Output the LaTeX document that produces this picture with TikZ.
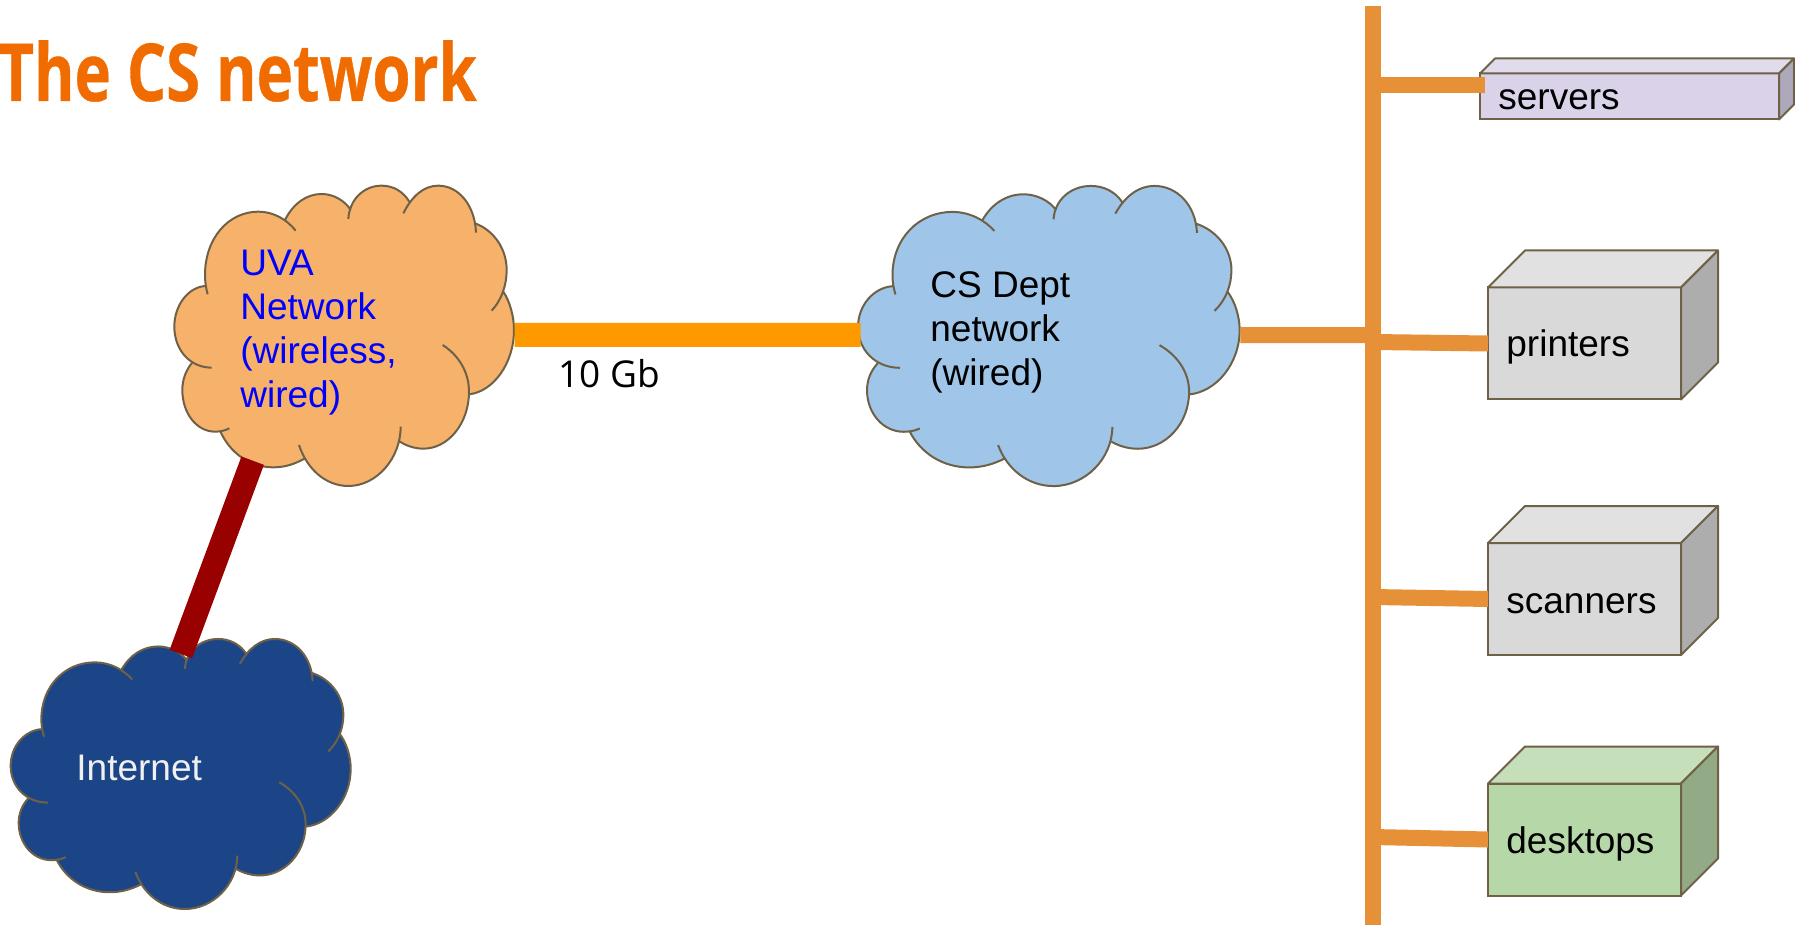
\documentclass[tikz,border=0pt]{standalone}
\usepackage{fontspec}
\setmainfont{Liberation Sans}
\newfontfamily\titlefont[FakeStretch=0.77, BoldFeatures={FakeBold=0.5}]{Open Sans}
\newfontfamily\linkfont{Open Sans}

\definecolor{edgeline}{HTML}{6E6148}
\definecolor{titleorange}{HTML}{F16C00}
\definecolor{barorange}{HTML}{E69138}
\definecolor{linkorange}{HTML}{FF9900}
\definecolor{linkred}{HTML}{990000}
\definecolor{uvafill}{HTML}{F6B26B}
\definecolor{csfill}{HTML}{9FC5E8}
\definecolor{netfill}{HTML}{1C4587}

\newcommand{\lobes}{
  (165,378) -- (405,180) -- (602,150) -- (778,125) -- (975,190) -- (1060,395) -- (957,703) -- (750,845) -- (465,895) -- (210,812) -- (125,610) -- cycle
}
\newcommand{\lobelines}{
  (173,403) .. controls (168,385) and (165,365) .. (165,345) .. controls (165,235) and (235,155) .. (325,155) .. controls (370,155) and (410,178) .. (437,212)
  (405,180) .. controls (430,130) and (470,102) .. (515,102) .. controls (550,102) and (585,122) .. (602,150)
  (595,177) .. controls (598,120) and (640,77) .. (695,77) .. controls (730,77) and (760,95) .. (778,125)
  (760,160) .. controls (785,110) and (820,77) .. (865,77) .. controls (925,77) and (975,135) .. (978,218)
  (975,190) .. controls (1030,210) and (1070,265) .. (1070,330) .. controls (1070,375) and (1055,420) .. (1025,452)
  (1060,395) .. controls (1080,425) and (1092,470) .. (1092,510) .. controls (1092,610) and (1030,695) .. (957,703)
  (878,555) .. controls (925,585) and (957,635) .. (957,695) .. controls (957,790) and (895,866) .. (820,866) .. controls (795,866) and (770,858) .. (750,845)
  (752,800) .. controls (752,895) and (680,978) .. (595,978) .. controls (525,978) and (470,925) .. (447,855)
  (465,895) .. controls (435,912) and (405,922) .. (370,922) .. controls (300,922) and (240,880) .. (210,812)
  (238,805) .. controls (225,812) and (210,815) .. (195,815) .. controls (140,815) and (97,760) .. (97,690) .. controls (97,660) and (107,632) .. (125,610)
  (185,623) .. controls (120,623) and (73,570) .. (73,500) .. controls (73,435) and (115,382) .. (165,378)
}

\tikzset{
  netcloud/.pic={
    \fill[pic actions] \lobes \lobelines;
    \draw[edgeline, line width=1pt] \lobelines;
    \coordinate (-east) at (1094,525);
    \coordinate (-west) at (80,524);
    \coordinate (-south) at (308,902);
    \coordinate (-north) at (583,127);
  },
  cubefront/.style={draw=edgeline, line width=1pt, inner sep=0pt, outer sep=0pt},
  cubeface/.style={draw=edgeline, line width=1pt, line join=round},
  boxlabel/.style={anchor=base west, inner sep=0pt, font=\fontsize{18.5}{22}\selectfont},
  cloudlabel/.style={anchor=west, inner sep=0pt, align=left, font=\fontsize{18.5}{22}\selectfont},
  barline/.style={barorange, line width=8pt}
}

\begin{document}
\begin{tikzpicture}[x=0.5pt, y=-0.5pt]

  \useasboundingbox (0,0) rectangle (1795,925);

  \coordinate (barTop) at (1373,6);
  \coordinate (barBottom) at (1373,925);
  \coordinate (barCs) at (1373,335);
  \coordinate (barServers) at (1373,85);
  \coordinate (barPrinters) at (1373,342);
  \coordinate (barScanners) at (1373,597);
  \coordinate (barDesktops) at (1373,837);
  \coordinate (serversPort) at (1485,85);

  % Title
  \node[anchor=base west, inner sep=0pt, text=titleorange, font=\titlefont\bfseries\fontsize{40}{48}\selectfont] (title) at (-2,101) {The CS network};

  % Clouds
  \pic[fill=uvafill, xscale=1/3, yscale=1/3] (uva) at (150,160) {netcloud};
  \pic[fill=csfill, xscale=0.3745, yscale=0.3331] (cs) at (830.7,160.3) {netcloud};
  \pic[fill=netfill, xscale=0.3337, yscale=0.2997] (internet) at (-13.7,615.9) {netcloud};

  \node[cloudlabel, text=blue] (uvalabel) at (240,333) {UVA\\Network\\(wireless,\\wired)};
  \node[cloudlabel] (cslabel) at (930,332) {CS Dept\\network\\(wired)};
  \node[boxlabel, text=white!94!black] (internetlabel) at (76,780) {Internet};

  % Boxes
  \foreach \name/\cx/\cy/\boxw/\boxh/\boxd/\frontcol/\topcol/\sidecol in {
    servers/1629.5/96.5/299/46/15/D9D2E9/E1DCED/ADA8BA,
    printers/1584.5/343.5/193/112/37/D9D9D9/E1E1E1/ADADAD,
    scanners/1584.5/599/193/112/37/D9D9D9/E1E1E1/ADADAD,
    desktops/1584.5/839.5/193/112/37/B6D7A8/C5DFBA/92AB86} {
    \definecolor{frontc}{HTML}{\frontcol}
    \definecolor{topc}{HTML}{\topcol}
    \definecolor{sidec}{HTML}{\sidecol}
    \node[cubefront, fill=frontc, minimum width=\boxw*0.5pt, minimum height=\boxh*0.5pt] (\name) at (\cx,\cy) {};
    \draw[cubeface, fill=topc] (\name.north west) -- ++(\boxd,-\boxd) -- ++(\boxw,0) -- (\name.north east) -- cycle;
    \draw[cubeface, fill=sidec] (\name.north east) -- ++(\boxd,-\boxd) -- ++(0,\boxh) -- (\name.south east) -- cycle;
  }

  \node[boxlabel] (serverslabel) at (1498,110) {servers};
  \node[boxlabel] (printerslabel) at (1506,357) {printers};
  \node[boxlabel] (scannerslabel) at (1506,613) {scanners};
  \node[boxlabel] (desktopslabel) at (1506,853) {desktops};

  % Links
  \draw[linkorange, line width=12pt] (uva-east) -- (cs-west);
  \node[anchor=base west, inner sep=0pt, font=\linkfont\fontsize{18.5}{22}\selectfont] (speed) at (558,387) {10 Gb};
  \draw[linkred, line width=12pt] (uva-south) -- (internet-north);
  \draw[barline] (barTop) -- (barBottom);
  \draw[barline] (cs-east) -- (barCs);
  \draw[barline] (barServers) -- (serversPort);
  \draw[barline] (barPrinters) -- (printers.west);
  \draw[barline] (barScanners) -- (scanners.west);
  \draw[barline] (barDesktops) -- (desktops.west);

\end{tikzpicture}
\end{document}
